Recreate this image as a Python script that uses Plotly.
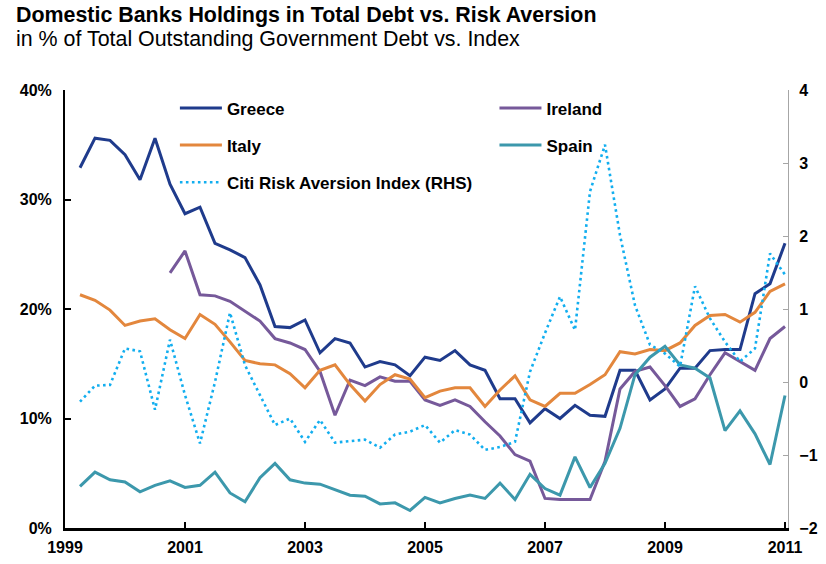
import plotly.graph_objects as go

# Quarterly observations, Q1 1999 .. Q4 2010 (plotted at quarter end)
quarters = [f"{y}Q{q}" for y in range(1999, 2011) for q in range(1, 5)]

greece = [32.9, 35.6, 35.4, 34.1, 31.8, 35.6, 31.4, 28.7, 29.3, 26.0,
          25.4, 24.7, 22.2, 18.4, 18.3, 19.0, 16.0, 17.3, 16.9, 14.7,
          15.2, 14.9, 13.9, 15.6, 15.3, 16.2, 14.9, 14.4, 11.8, 11.8,
          9.6, 10.9, 10.0, 11.2, 10.3, 10.2, 14.4, 14.4, 11.7, 12.7,
          14.6, 14.6, 16.2, 16.3, 16.3, 21.4, 22.3, 26.0]

italy = [21.3, 20.8, 19.9, 18.5, 18.9, 19.1, 18.1, 17.3, 19.5, 18.6,
         17.0, 15.3, 15.0, 14.9, 14.1, 12.8, 14.4, 14.9, 13.1, 11.6,
         13.1, 14.0, 13.6, 11.9, 12.5, 12.8, 12.8, 11.1, 12.6, 13.9,
         11.7, 11.1, 12.3, 12.3, 13.1, 14.0, 16.1, 15.9, 16.3, 16.2,
         16.9, 18.5, 19.4, 19.5, 18.8, 19.7, 21.6, 22.3]

ireland = [None] * 6 + [
    23.3, 25.3, 21.3, 21.2, 20.7, 19.8, 18.9, 17.3, 16.9, 16.3,
    14.3, 10.3, 13.5, 13.0, 13.8, 13.4, 13.4, 11.7, 11.2, 11.7,
    11.1, 9.7, 8.4, 6.7, 6.1, 2.7, 2.6, 2.6, 2.6, 6.1,
    12.7, 14.3, 14.7, 13.0, 11.1, 11.8, 14.0, 16.0, 15.2, 14.4,
    17.3, 18.4]

spain = [3.8, 5.1, 4.4, 4.2, 3.3, 3.9, 4.3, 3.7, 3.9, 5.1,
         3.2, 2.4, 4.6, 5.9, 4.4, 4.1, 4.0, 3.5, 3.0, 2.9,
         2.2, 2.3, 1.6, 2.8, 2.3, 2.7, 3.0, 2.7, 4.1, 2.6,
         4.9, 3.6, 3.0, 6.5, 3.7, 5.9, 9.1, 14.0, 15.6, 16.6,
         14.9, 14.6, 13.7, 8.9, 10.7, 8.6, 5.8, 12.1]

risk_aversion = [-0.27, -0.05, -0.04, 0.46, 0.42, -0.38, 0.58, -0.18, -0.84, 0.00,
                 0.95, 0.23, -0.18, -0.59, -0.50, -0.82, -0.52, -0.83, -0.81, -0.79,
                 -0.90, -0.72, -0.68, -0.59, -0.83, -0.66, -0.72, -0.93, -0.89, -0.82,
                 0.14, 0.67, 1.17, 0.71, 2.61, 3.25, 2.01, 1.05, 0.51, 0.39,
                 0.21, 1.31, 0.87, 0.55, 0.28, 0.46, 1.76, 1.47]

year_ticks = [1999, 2001, 2003, 2005, 2007, 2009, 2011]
pct_ticks = [0, 10, 20, 30, 40]
pct_labels = [f"{v}%" for v in pct_ticks]
index_ticks = [-2, -1, 0, 1, 2, 3, 4]


def quarter_to_year(q):
    y, n = q.split("Q")
    return int(y) + int(n) * 0.25


x = [quarter_to_year(q) for q in quarters]

FONT = "Arial, Liberation Sans, sans-serif"
TICKFONT = dict(family=FONT, size=16, color="#000000", weight="bold")

fig = go.Figure()

series = [
    ("Greece", greece, "#1F3B8C", "legend"),
    ("Ireland", ireland, "#76599A", "legend2"),
    ("Italy", italy, "#E3873D", "legend"),
    ("Spain", spain, "#3C98AC", "legend2"),
]
for name, vals, color, leg in series:
    fig.add_trace(go.Scatter(
        x=x, y=vals, name=name, mode="lines",
        line=dict(color=color, width=3),
        legend=leg, legendgroup=name, connectgaps=False,
    ))

fig.add_trace(go.Scatter(
    x=x, y=risk_aversion, name="Citi Risk Aversion Index (RHS)", mode="lines",
    line=dict(color="#12AEEF", width=2.6, dash="2.6px,3.4px"),
    yaxis="y2", legend="legend", legendgroup="citi",
))

legend_common = dict(
    bgcolor="rgba(0,0,0,0)", borderwidth=0,
    font=dict(family=FONT, size=17, color="#000000", weight="bold"),
    orientation="v", tracegroupgap=12, itemwidth=42,
    xanchor="left", yanchor="top", traceorder="grouped",
)

fig.update_layout(
    width=826, height=564,
    margin=dict(l=65, r=38, t=90, b=36),
    paper_bgcolor="white", plot_bgcolor="white",
    font=dict(family=FONT, color="#000000"),
    showlegend=True,
    legend=dict(x=0.152, y=0.999, **legend_common),
    legend2=dict(x=0.594, y=0.999, **legend_common),
    xaxis=dict(
        range=[1999, 2011.05], tickvals=year_ticks,
        showgrid=False, zeroline=False, automargin=False,
        showline=True, linecolor="#000000", linewidth=3,
        ticks="inside", ticklen=6, tickwidth=2, tickcolor="#000000",
        tickfont=TICKFONT, ticklabelstandoff=3,
    ),
    yaxis=dict(
        range=[0, 40], tickvals=pct_ticks, ticktext=pct_labels,
        showgrid=False, zeroline=False, automargin=False,
        showline=True, linecolor="#000000", linewidth=2,
        ticks="inside", ticklen=6, tickwidth=2, tickcolor="#000000",
        tickfont=TICKFONT, ticklabelstandoff=8,
    ),
    yaxis2=dict(
        range=[-2, 4], tickvals=index_ticks, overlaying="y", side="right",
        showgrid=False, zeroline=False, automargin=False,
        showline=True, linecolor="#A6A6A6", linewidth=1.2,
        ticks="inside", ticklen=5, tickwidth=1.2, tickcolor="#A6A6A6",
        tickfont=TICKFONT, ticklabelstandoff=7,
    ),
    annotations=[
        dict(text="<b>Domestic Banks Holdings in Total Debt vs. Risk Aversion</b>",
             xref="paper", yref="paper", x=-0.0705, y=1.171,
             xanchor="left", yanchor="middle", showarrow=False,
             font=dict(family=FONT, size=21.4, color="#000000")),
        dict(text="in % of Total Outstanding Government Debt vs. Index",
             xref="paper", yref="paper", x=-0.0705, y=1.1164,
             xanchor="left", yanchor="middle", showarrow=False,
             font=dict(family=FONT, size=21.4, color="#000000")),
    ],
)

fig.write_html("out.html")
